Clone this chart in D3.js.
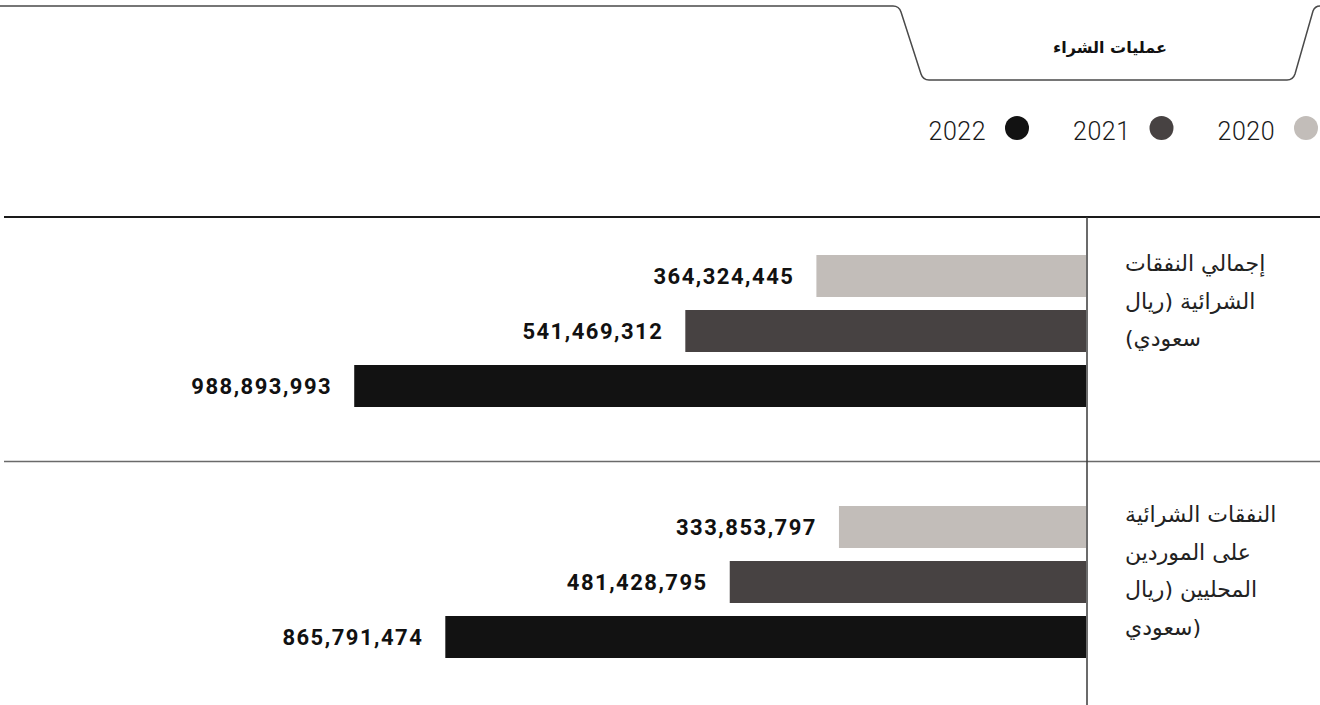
<!DOCTYPE html>
<html lang="ar">
<head>
<meta charset="utf-8">
<script src="https://cdn.jsdelivr.net/npm/d3@7"></script>
<style>
  html, body { margin: 0; padding: 0; background: #fff; }
  svg { display: block; }
</style>
</head>
<body>
<svg id="chart" width="1320" height="705"></svg>
<script>
// Procurement spending by year (Saudi riyals)
const title = "عمليات الشراء";
const years = ["2020", "2021", "2022"];
const yearColors = ["#c2bdb9", "#474242", "#121212"];
const categories = ["total", "local"];
const categoryLines = [
  ["إجمالي النفقات", "الشرائية (ريال", "سعودي)"],
  ["النفقات الشرائية", "على الموردين", "المحليين (ريال", "(سعودي"]
];
const values2020 = [364324445, 333853797];
const values2021 = [541469312, 481428795];
const values2022 = [988893993, 865791474];

const series = [values2020, values2021, values2022];
const W = 1320, H = 705;
const axisX = 1086;          // baseline of the bars (right side)
const axisTop = 217;

const svg = d3.select("#chart");

// ----- title tab -----
const tab = d3.path();
tab.moveTo(0, 6);
tab.lineTo(893, 6);
tab.quadraticCurveTo(899, 6, 901, 12);
tab.lineTo(921, 74);
tab.quadraticCurveTo(923, 80, 929, 80);
tab.lineTo(1287, 80);
tab.quadraticCurveTo(1293, 80, 1295, 74);
tab.lineTo(1313, 11);
tab.quadraticCurveTo(1315, 6, 1320, 6);
svg.append("path")
  .attr("d", tab.toString())
  .attr("fill", "none")
  .attr("stroke", "#4a4a4a")
  .attr("stroke-width", 1.5);

svg.append("text")
  .attr("x", 1110).attr("y", 53)
  .attr("text-anchor", "middle")
  .attr("font-family", "'DejaVu Sans', sans-serif")
  .attr("font-weight", "bold")
  .attr("font-size", 16)
  .attr("fill", "#111")
  .text(title);

// ----- legend -----
const legendX = d3.scalePoint().domain(years).range([1306, 1017]);
const legend = svg.append("g").selectAll("g")
  .data(years)
  .join("g")
  .attr("transform", d => `translate(${legendX(d)},128)`);
legend.append("circle")
  .attr("r", 12)
  .attr("fill", (d, i) => yearColors[i]);
legend.append("text")
  .attr("x", -31).attr("y", 12)
  .attr("text-anchor", "end")
  .attr("font-family", "Roboto, sans-serif")
  .attr("font-weight", 300)
  .attr("font-size", 25)
  .attr("letter-spacing", 0.5)
  .attr("fill", "#1a1a1a")
  .text(d => d);

// ----- scales -----
const x = d3.scaleLinear().domain([0, 1e9]).range([axisX, axisX - 740]);
const y0 = d3.scaleBand().domain(categories).range([axisTop, axisTop + 502]);
const y1 = d3.scaleBand().domain(years).range([38, 38 + 152]).paddingInner(13 / 55).paddingOuter(0);

// ----- bars -----
const groups = svg.append("g").selectAll("g")
  .data(categories)
  .join("g")
  .attr("transform", d => `translate(0,${y0(d)})`);

groups.each(function (cat, ci) {
  const g = d3.select(this);
  const rows = years.map((yr, yi) => ({ yr, yi, v: series[yi][ci] }));
  g.selectAll("rect")
    .data(rows)
    .join("rect")
    .attr("x", d => x(d.v))
    .attr("y", d => y1(d.yr))
    .attr("width", d => axisX - x(d.v))
    .attr("height", y1.bandwidth())
    .attr("fill", d => yearColors[d.yi]);
  g.selectAll("text.val")
    .data(rows)
    .join("text")
    .attr("class", "val")
    .attr("x", d => x(d.v) - 22)
    .attr("y", d => y1(d.yr) + y1.bandwidth() / 2 + 8)
    .attr("text-anchor", "end")
    .attr("font-family", "Roboto, sans-serif")
    .attr("font-weight", "bold")
    .attr("font-size", 22)
    .attr("letter-spacing", 1.5)
    .attr("fill", "#111")
    .text(d => d3.format(",")(d.v));

  // category label, lines flush with the left edge of the label column
  const lab = g.append("text")
    .attr("font-family", "'DejaVu Sans', sans-serif")
    .attr("font-size", 22)
    .attr("fill", "#222")
    .style("direction", "rtl")
    .attr("text-anchor", "end");
  lab.selectAll("tspan")
    .data(categoryLines[ci])
    .join("tspan")
    .attr("x", 1125)
    .attr("y", (d, li) => 54 + li * 37.5)
    .text(d => d);
});

// ----- axis lines -----
svg.append("line")
  .attr("x1", 4).attr("x2", W)
  .attr("y1", axisTop).attr("y2", axisTop)
  .attr("stroke", "#1a1a1a").attr("stroke-width", 2);

categories.slice(1).forEach(c => {
  svg.append("line")
    .attr("x1", 4).attr("x2", W)
    .attr("y1", y0(c) - 6.5).attr("y2", y0(c) - 6.5)
    .attr("stroke", "#6a6a6a").attr("stroke-width", 1.5);
});

svg.append("line")
  .attr("x1", axisX + 1).attr("x2", axisX + 1)
  .attr("y1", axisTop).attr("y2", H)
  .attr("stroke", "#3a3a3a").attr("stroke-width", 1.5);
</script>
</body>
</html>
